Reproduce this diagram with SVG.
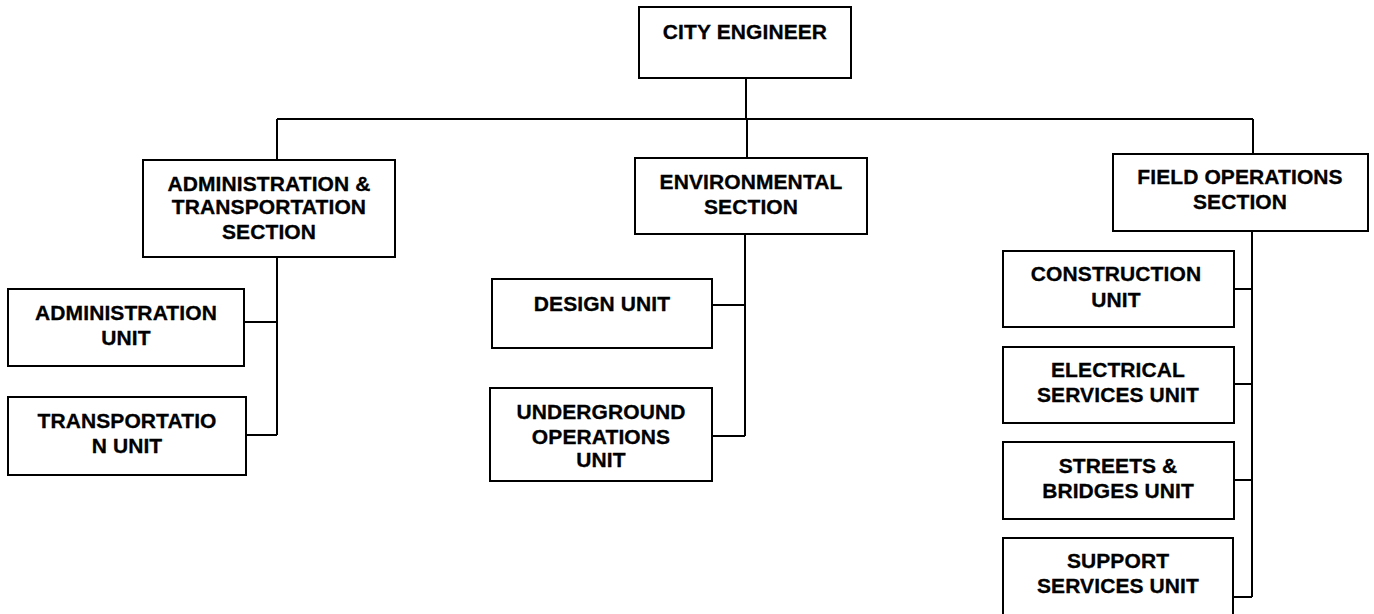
<svg xmlns="http://www.w3.org/2000/svg" width="1374" height="614" viewBox="0 0 1374 614">
<style>
.box{fill:#fff;stroke:#000;stroke-width:2}
.t{font-family:"Liberation Sans",Arial,sans-serif;font-weight:bold;font-size:21px;letter-spacing:0.1px;fill:#000;stroke:#000;stroke-width:0.3;text-anchor:middle}
.c{fill:none;stroke:#000;stroke-width:2}
</style>
<rect width="1374" height="614" fill="#fff"/>
<g id="connectors">
<path class="c" d="M746 78V119M277 119H1253M277 119V160M747 119V158M1253 119V154"/>
<path class="c" d="M277 257V435M244 322H277M246 435H277"/>
<path class="c" d="M745 234V436M712 305H745M712 436H745"/>
<path class="c" d="M1252 231V597M1234 289H1252M1234 384H1252M1234 480H1252M1233 597H1252"/>
</g>
<g id="city-engineer"><rect class="box" x="639" y="7" width="212" height="71"/><text class="t" x="745" y="39">CITY ENGINEER</text></g>
<g id="admin-section"><rect class="box" x="143" y="160" width="252" height="97"/><text class="t" x="269" y="191">ADMINISTRATION &amp;</text><text class="t" x="269" y="214">TRANSPORTATION</text><text class="t" x="269" y="239">SECTION</text></g>
<g id="env-section"><rect class="box" x="635" y="158" width="232" height="76"/><text class="t" x="751" y="189">ENVIRONMENTAL</text><text class="t" x="751" y="214">SECTION</text></g>
<g id="field-section"><rect class="box" x="1113" y="154" width="255" height="77"/><text class="t" x="1240" y="184">FIELD OPERATIONS</text><text class="t" x="1240" y="209">SECTION</text></g>
<g id="admin-unit"><rect class="box" x="8" y="289" width="236" height="77"/><text class="t" x="126" y="320">ADMINISTRATION</text><text class="t" x="126" y="345">UNIT</text></g>
<g id="transport-unit"><rect class="box" x="8" y="397" width="238" height="78"/><text class="t" x="127" y="428">TRANSPORTATIO</text><text class="t" x="127" y="453">N UNIT</text></g>
<g id="design-unit"><rect class="box" x="492" y="279" width="220" height="69"/><text class="t" x="602" y="311">DESIGN UNIT</text></g>
<g id="underground-unit"><rect class="box" x="490" y="388" width="222" height="93"/><text class="t" x="601" y="419">UNDERGROUND</text><text class="t" x="601" y="444">OPERATIONS</text><text class="t" x="601" y="467">UNIT</text></g>
<g id="construction-unit"><rect class="box" x="1003" y="251" width="231" height="76"/><text class="t" x="1116" y="281">CONSTRUCTION</text><text class="t" x="1116" y="307">UNIT</text></g>
<g id="electrical-unit"><rect class="box" x="1003" y="347" width="231" height="76"/><text class="t" x="1118" y="377">ELECTRICAL</text><text class="t" x="1118" y="402">SERVICES UNIT</text></g>
<g id="streets-unit"><rect class="box" x="1003" y="442" width="231" height="77"/><text class="t" x="1118" y="473">STREETS &amp;</text><text class="t" x="1118" y="498">BRIDGES UNIT</text></g>
<g id="support-unit"><rect class="box" x="1003" y="538" width="230" height="80"/><text class="t" x="1118" y="568">SUPPORT</text><text class="t" x="1118" y="593">SERVICES UNIT</text></g>
</svg>
